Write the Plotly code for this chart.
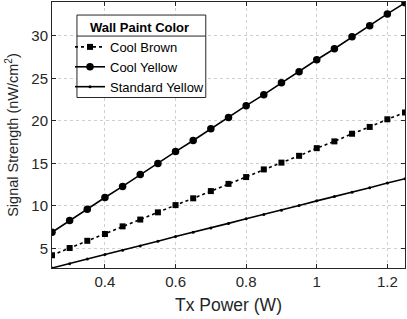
import plotly.graph_objects as go

tx_power = [0.25, 0.30, 0.35, 0.40, 0.45, 0.50, 0.55, 0.60, 0.65, 0.70, 0.75,
            0.80, 0.85, 0.90, 0.95, 1.00, 1.05, 1.10, 1.15, 1.20, 1.25]
cool_brown = [4.2, 5.05, 5.9, 6.7, 7.6, 8.4, 9.25, 10.1, 10.9, 11.75, 12.6,
              13.4, 14.3, 15.1, 15.9, 16.8, 17.6, 18.5, 19.3, 20.2, 21.0]
cool_yellow = [6.9, 8.3, 9.6, 11.0, 12.3, 13.7, 15.0, 16.4, 17.7, 19.1, 20.4,
               21.8, 23.1, 24.5, 25.8, 27.2, 28.5, 29.9, 31.2, 32.6, 33.9]
standard_yellow = [2.7, 3.2, 3.75, 4.3, 4.8, 5.3, 5.85, 6.4, 6.9, 7.4, 7.95,
                   8.5, 9.0, 9.5, 10.05, 10.6, 11.1, 11.6, 12.15, 12.7, 13.2]
x_ticks = [0.4, 0.6, 0.8, 1.0, 1.2]
x_tick_text = ["0.4", "0.6", "0.8", "1", "1.2"]
y_ticks = [5, 10, 15, 20, 25, 30]

font = "Liberation Sans, Arial, sans-serif"
dark = "#262626"
fig = go.Figure()
fig.add_trace(go.Scatter(x=tx_power, y=cool_brown, name="Cool Brown", mode="lines+markers",
                         line=dict(color="black", width=1.6, dash="dot"),
                         marker=dict(symbol="square", size=6, color="black")))
fig.add_trace(go.Scatter(x=tx_power, y=cool_yellow, name="Cool Yellow", mode="lines+markers",
                         line=dict(color="black", width=1.6),
                         marker=dict(symbol="circle", size=7.5, color="black")))
fig.add_trace(go.Scatter(x=tx_power, y=standard_yellow, name="Standard Yellow", mode="lines+markers",
                         line=dict(color="black", width=1.6),
                         marker=dict(symbol="circle", size=3, color="black")))

axis_common = dict(showline=True, linecolor=dark, linewidth=1, mirror="ticks",
                   ticks="inside", ticklen=4, tickcolor=dark,
                   showgrid=True, gridcolor="#cfcfcf", griddash="dot", gridwidth=1,
                   zeroline=False, tickfont=dict(size=15, color=dark, family=font))
fig.update_xaxes(range=[0.25, 1.25], tickvals=x_ticks, ticktext=x_tick_text,
                 title=dict(text="Tx Power (W)", font=dict(size=17.5, color=dark, family=font), standoff=9),
                 **axis_common)
fig.update_yaxes(range=[2.7, 34], tickvals=y_ticks,
                 title=dict(text="Signal Strength (nW/cm<sup>2</sup>)", font=dict(size=14.5, color=dark, family=font), standoff=9),
                 **axis_common)

# legend frame and title separator (drawn as shapes behind a transparent legend)
fig.add_shape(type="rect", xref="paper", yref="paper", x0=0.0707, x1=0.4356, y0=0.641, y1=0.951,
              line=dict(color=dark, width=1), fillcolor="white", layer="above")
fig.add_shape(type="line", xref="paper", yref="paper", x0=0.0707, x1=0.4356, y0=0.872, y1=0.872,
              line=dict(color=dark, width=1), layer="above")

fig.update_layout(
    width=407, height=319,
    margin=dict(l=52, r=2, t=2, b=51),
    paper_bgcolor="white", plot_bgcolor="white",
    font=dict(family=font, color="black"),
    showlegend=True,
    legend=dict(x=0.051, y=0.951, xanchor="left", yanchor="top",
                bgcolor="rgba(0,0,0,0)", borderwidth=0,
                font=dict(size=13, family=font, color="black"),
                title=dict(text="<b>Wall Paint Color</b>", side="top center",
                           font=dict(size=13, family=font, color="black")),
                itemwidth=30, tracegroupgap=0),
)
fig.write_html("out.html", config={"displayModeBar": False},
               post_script="document.body.style.margin='0';document.body.style.overflow='hidden';")
